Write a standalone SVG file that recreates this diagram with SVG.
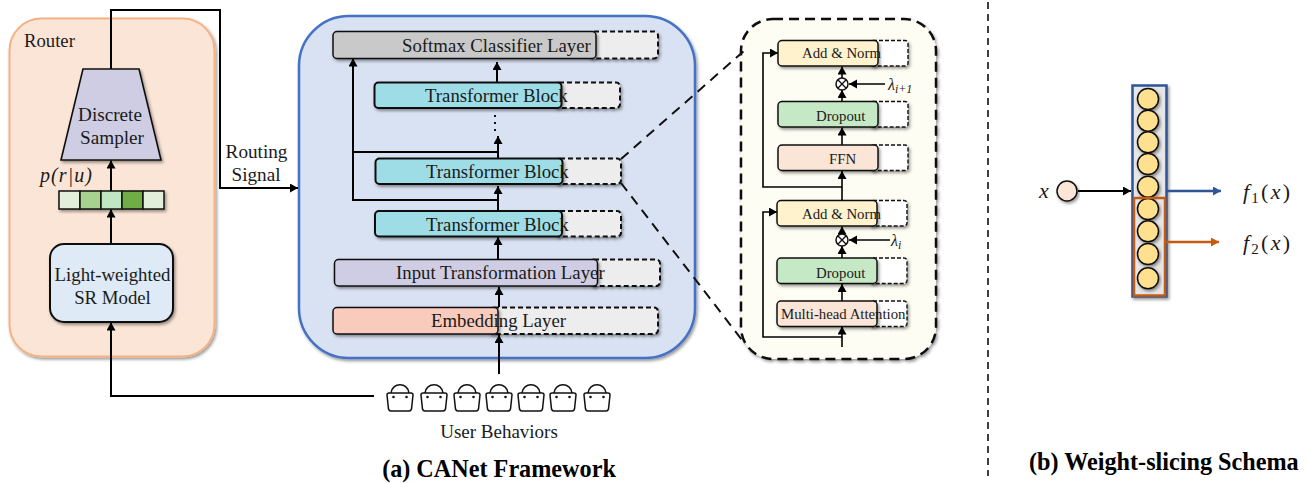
<svg xmlns="http://www.w3.org/2000/svg" xmlns:xlink="http://www.w3.org/1999/xlink" width="1306" height="483" viewBox="0 0 1306 483">
<style>
text{font-family:"Liberation Serif","Times New Roman",serif;fill:#1a1a1a}
.m{text-anchor:middle}
.t18{font-size:18.800px}
.t14{font-size:14.800px}
.bold{font-weight:bold;font-size:24.200px;fill:#000}
.math{font-style:italic}
.line{fill:none;stroke:#000;stroke-width:2}
.thin{fill:none;stroke:#000;stroke-width:1.6}
.box{stroke:#111;stroke-width:2;filter:url(#sh)}
.dash{fill:#ededed;stroke:#111;stroke-width:2;stroke-dasharray:5 3;filter:url(#sh)}
.dashw{fill:#fff;stroke:#111;stroke-width:1.4;stroke-dasharray:4 2;filter:url(#sh)}
.boxs{stroke:#111;stroke-width:1.5;filter:url(#sh)}
.cell{stroke:#111;stroke-width:1.5}
.c{fill:#ffe08f;stroke:#111;stroke-width:1.5;filter:url(#sh)}
.bag{fill:none;stroke:#111;stroke-width:1.5}
</style>
<defs>
<filter id="sh" x="-15%" y="-15%" width="130%" height="140%"><feDropShadow dx="1.500" dy="2" stdDeviation="1.500" flood-color="#000" flood-opacity="0.4"/></filter>
<marker id="a" markerUnits="userSpaceOnUse" markerWidth="11" markerHeight="11" refX="8" refY="4.500" orient="auto"><path d="M0 0L8 4.500L0 9Z" fill="#000"/></marker>
<marker id="ab" markerUnits="userSpaceOnUse" markerWidth="11" markerHeight="11" refX="8" refY="4.500" orient="auto"><path d="M0 0L8 4.500L0 9Z" fill="#2f5597"/></marker>
<marker id="ao" markerUnits="userSpaceOnUse" markerWidth="11" markerHeight="11" refX="8" refY="4.500" orient="auto"><path d="M0 0L8 4.500L0 9Z" fill="#c55a11"/></marker>
<g id="bag"><path class="bag" d="M-13 395Q-13 393-11 393H11Q13 393 13 395L11.500 409Q11 411 9 411H-9Q-11 411-11.500 409Z"/><path class="bag" d="M-9 393C-8 382 8 382 9 393"/><circle cx="-6.500" cy="397" r="1.300" fill="#111"/><circle cx="6.500" cy="397" r="1.300" fill="#111"/></g>
</defs>
<rect width="1306" height="483" fill="#fff"/>

<g id="router">
<rect x="9.500" y="18.500" width="205" height="338" rx="32" fill="#fbe5d6" stroke="#f4b183" stroke-width="2" filter="url(#sh)"/>
<text x="24" y="47" style="font-size:18.700px">Router</text>
</g>

<g id="main-panel"><rect x="299" y="16" width="396" height="342" rx="50" fill="#d9e2f3" stroke="#4472c4" stroke-width="2.500" filter="url(#sh)"/></g>
<g id="detail-panel"><rect x="741" y="19" width="195" height="340" rx="32" fill="#fdfdf3" stroke="#111" stroke-width="2.500" stroke-dasharray="10 6" filter="url(#sh)"/></g>

<g id="connectors">
<path class="line" d="M111 69V10H220V188H298" marker-end="url(#a)"/>
<path class="line" d="M111 191V160.500" marker-end="url(#a)"/>
<path class="line" d="M111 244V209.500" marker-end="url(#a)"/>
<path class="line" d="M374 396H111V322.500" marker-end="url(#a)"/>
<path class="line" d="M499 374V335" marker-end="url(#a)"/>
<path class="line" d="M499 307V287" marker-end="url(#a)"/>
<path class="line" d="M498 259V237" marker-end="url(#a)"/>
<path class="line" d="M498 211V186" marker-end="url(#a)"/>
<path class="line" d="M498 200H353V58.500" marker-end="url(#a)"/>
<path class="line" d="M498 158V136" marker-end="url(#a)"/>
<path class="line" d="M498 152H353"/>
<path class="line" d="M497 82V62" marker-end="url(#a)"/>
<path d="M495 115V131" fill="none" stroke="#111" stroke-width="2" stroke-dasharray="2 5"/>
<path d="M621 159L745 50" fill="none" stroke="#111" stroke-width="2" stroke-dasharray="10 7"/>
<path d="M621 183L742 340" fill="none" stroke="#111" stroke-width="2" stroke-dasharray="10 7"/>
<path class="thin" d="M842 200V171" marker-end="url(#a)"/>
<path class="thin" d="M842 187H763V53H778" marker-end="url(#a)"/>
<path class="thin" d="M842 145V127.500" marker-end="url(#a)"/>
<path class="thin" d="M842 101V90" marker-end="url(#a)"/>
<path class="thin" d="M842 78V66.500" marker-end="url(#a)"/>
<path class="thin" d="M885 84H849" marker-end="url(#a)"/>
<path class="thin" d="M842 347V326.500" marker-end="url(#a)"/>
<path class="thin" d="M842 337H763V212H777" marker-end="url(#a)"/>
<path class="thin" d="M842 301V284" marker-end="url(#a)"/>
<path class="thin" d="M842 258V246" marker-end="url(#a)"/>
<path class="thin" d="M842 234V226.500" marker-end="url(#a)"/>
<path class="thin" d="M890 240H849" marker-end="url(#a)"/>
</g>

<g id="discrete-sampler"><path d="M83 69H139L161 160H61Z" fill="#cecde3" stroke="#111" stroke-width="1.600" filter="url(#sh)"/>
<text class="m" x="110" y="121" style="font-size:19.200px">Discrete</text><text class="m" x="112" y="144" style="font-size:19.200px">Sampler</text></g>
<g id="router-prob">
<g filter="url(#sh)"><rect class="cell" x="59" y="191" width="21" height="18" fill="#e2efda"/><rect class="cell" x="80" y="191" width="21" height="18" fill="#a9d18e"/><rect class="cell" x="101" y="191" width="21" height="18" fill="#c1e6c3"/><rect class="cell" x="122" y="191" width="21" height="18" fill="#70ad47"/><rect class="cell" x="143" y="191" width="21" height="18" fill="#e2efda"/></g>
<text class="math" x="40" y="182" textLength="52" style="font-size:20px">p(r|u)</text></g>
<g id="sr-model"><rect class="box" x="50" y="244" width="123" height="78" rx="14" fill="#deeaf6"/>
<text class="m t18" x="112.500" y="281">Light-weighted</text><text class="m t18" x="112.500" y="304">SR Model</text></g>
<g id="routing-signal"><text class="m" x="256.500" y="158" style="font-size:19.200px">Routing</text><text class="m" x="256" y="181" style="font-size:19.200px">Signal</text></g>

<g id="softmax"><rect class="dash" x="590" y="31.500" width="68" height="27" rx="4"/><rect class="boxs" x="333" y="31.500" width="263" height="27" rx="4" fill="#c9c9c9"/><text class="t18" x="402" y="52">Softmax Classifier Layer</text></g>
<g id="block-3"><rect class="dash" x="555" y="82.500" width="65" height="25.500" rx="4"/><rect class="box" x="374.500" y="82.500" width="187" height="25.500" rx="4" fill="#9fdde6"/><text class="t18" x="425" y="102">Transformer Block</text></g>
<g id="block-2"><rect class="dash" x="556" y="158.500" width="65" height="25.500" rx="4"/><rect class="box" x="375.500" y="158.500" width="187" height="25.500" rx="4" fill="#9fdde6"/><text class="t18" x="426" y="178">Transformer Block</text></g>
<g id="block-1"><rect class="dash" x="556" y="211" width="65" height="25.500" rx="4"/><rect class="box" x="375" y="211" width="187" height="25.500" rx="4" fill="#9fdde6"/><text class="t18" x="426" y="231">Transformer Block</text></g>
<g id="input-layer"><rect class="dash" x="590" y="259.500" width="70" height="26.500" rx="4"/><rect class="boxs" x="334.500" y="259.500" width="263" height="26.500" rx="4" fill="#cecde3"/><text class="t18" x="396" y="279">Input Transformation Layer</text></g>
<g id="embedding"><rect class="dash" x="490" y="307.500" width="168" height="26.500" rx="4"/><rect class="boxs" x="333" y="307.500" width="165" height="26.500" rx="4" fill="#f8cbbd"/><text class="t18" x="431" y="327">Embedding Layer</text></g>

<g id="add-norm-2"><rect class="dashw" x="870" y="40.500" width="38" height="25.500" rx="3"/><rect class="boxs" x="778" y="40.500" width="100" height="25.500" rx="4" fill="#fff2cc"/><text class="t14" x="802" y="58">Add &amp; Norm</text></g>
<g id="otimes-2"><circle cx="842" cy="84" r="6" fill="#fff" stroke="#111" stroke-width="1.500"/><path d="M837.800 79.800L846.200 88.200M846.200 79.800L837.800 88.200" stroke="#111" stroke-width="1.300"/></g>
<g id="lambda-2"><text class="math" x="888" y="90" style="font-size:16px">λ<tspan dy="3" style="font-size:12px">i+1</tspan></text></g>
<g id="dropout-2"><rect class="dashw" x="870" y="101.500" width="38" height="25.500" rx="3"/><rect class="boxs" x="778" y="101.500" width="100" height="25.500" rx="4" fill="#c5e8c5"/><text class="t14" x="816" y="121">Dropout</text></g>
<g id="ffn"><rect class="dashw" x="870" y="145" width="38" height="25.500" rx="3"/><rect class="boxs" x="778" y="145" width="100" height="25.500" rx="4" fill="#fbe5d6"/><text class="t14" x="829" y="164">FFN</text></g>
<g id="add-norm-1"><rect class="dashw" x="870" y="200.500" width="37" height="25.500" rx="3"/><rect class="boxs" x="777" y="200.500" width="100" height="25.500" rx="4" fill="#fff2cc"/><text class="t14" x="802" y="219">Add &amp; Norm</text></g>
<g id="otimes-1"><circle cx="842" cy="240" r="6" fill="#fff" stroke="#111" stroke-width="1.500"/><path d="M837.800 235.800L846.200 244.200M846.200 235.800L837.800 244.200" stroke="#111" stroke-width="1.300"/></g>
<g id="lambda-1"><text class="math" x="891" y="246" style="font-size:16px">λ<tspan dy="3" style="font-size:12px">i</tspan></text></g>
<g id="dropout-1"><rect class="dashw" x="870" y="258" width="37" height="25.500" rx="3"/><rect class="boxs" x="777" y="258" width="100" height="25.500" rx="4" fill="#c5e8c5"/><text class="t14" x="816" y="278">Dropout</text></g>
<g id="attention"><rect class="dashw" x="870" y="301" width="37" height="25.500" rx="3"/><rect class="boxs" x="777" y="301" width="100" height="25.500" rx="4" fill="#fbe5d6"/><text class="t14" x="781" y="319">Multi-head Attention</text></g>

<g id="user-behaviors">
<use xlink:href="#bag" x="400"/><use xlink:href="#bag" x="434"/><use xlink:href="#bag" x="467"/><use xlink:href="#bag" x="499"/><use xlink:href="#bag" x="531"/><use xlink:href="#bag" x="563"/><use xlink:href="#bag" x="597"/>
<text class="m" x="499" y="438" style="font-size:19px">User Behaviors</text></g>
<text class="m bold" x="499" y="477">(a) CANet Framework</text>

<path id="divider" d="M988 2V476" fill="none" stroke="#111" stroke-width="1.600" stroke-dasharray="7 5"/>

<g id="input-x"><circle cx="1067" cy="191" r="10" fill="#fbe5d6" stroke="#111" stroke-width="1.500" filter="url(#sh)"/><text class="math" x="1039" y="198" style="font-size:22px">x</text></g>
<g id="slice-column">
<rect x="1132.500" y="85.500" width="34" height="211" fill="#e7e6e6" stroke="#2f5597" stroke-width="2.500" filter="url(#sh)"/>
<circle class="c" cx="1148" cy="99" r="10.500"/><circle class="c" cx="1148" cy="120.700" r="10.500"/><circle class="c" cx="1148" cy="142.300" r="10.500"/><circle class="c" cx="1148" cy="164" r="10.500"/><circle class="c" cx="1148" cy="186.700" r="10.500"/><circle class="c" cx="1148" cy="209" r="10.500"/><circle class="c" cx="1148" cy="231.300" r="10.500"/><circle class="c" cx="1148" cy="254" r="10.500"/><circle class="c" cx="1148" cy="278.300" r="10.500"/>
<rect x="1134" y="198" width="31" height="97.500" fill="none" stroke="#c55a11" stroke-width="2.500"/>
</g>
<g id="slice-connectors">
<path d="M1078 191H1131" fill="none" stroke="#000" stroke-width="1.800" marker-end="url(#a)"/>
<path d="M1167 191H1221" fill="none" stroke="#2f5597" stroke-width="2.500" marker-end="url(#ab)"/>
<path d="M1165 242H1219" fill="none" stroke="#c55a11" stroke-width="2.500" marker-end="url(#ao)"/>
</g>
<g id="f1"><text class="math" x="1243" y="199" textLength="47" style="font-size:22px">f<tspan dy="4" style="font-size:15px;font-style:normal">1</tspan><tspan dy="-4" style="font-style:normal">(</tspan>x<tspan style="font-style:normal">)</tspan></text></g>
<g id="f2"><text class="math" x="1243" y="250" textLength="47" style="font-size:22px">f<tspan dy="4" style="font-size:15px;font-style:normal">2</tspan><tspan dy="-4" style="font-style:normal">(</tspan>x<tspan style="font-style:normal">)</tspan></text></g>
<text class="bold" x="1029" y="470">(b) Weight-slicing Schema</text>
</svg>
